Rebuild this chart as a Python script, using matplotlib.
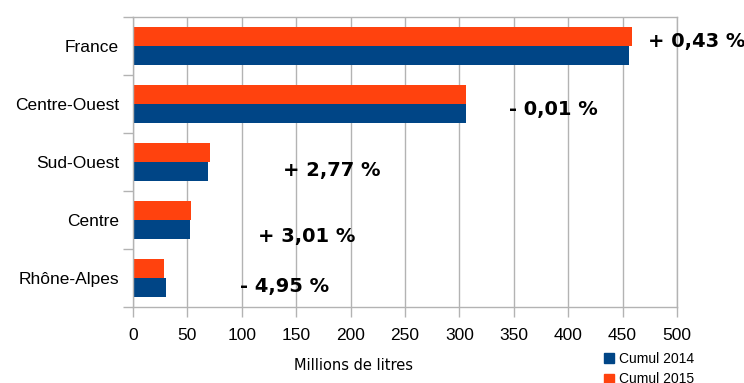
import matplotlib.pyplot as plt
import matplotlib.patches as mpatches
import numpy as np

# data (millions de litres)
regions = ["France", "Centre-Ouest", "Sud-Ouest", "Centre", "Rhône-Alpes"]
cumul_2014 = [456, 306, 69, 52.4, 30.3]
cumul_2015 = [458.5, 306, 70.8, 53.3, 28.5]
evolution = ["+ 0,43 %", "- 0,01 %", "+ 2,77 %", "+ 3,01 %", "- 4,95 %"]
x_ticks = [0, 50, 100, 150, 200, 250, 300, 350, 400, 450, 500]

blue = '#004586'
orange = '#FF420E'
grey = '#b3b3b3'

fig = plt.figure(figsize=(7.44, 3.83), dpi=100)
ax = fig.add_axes([133/744, 1 - 307/383, 544/744, 290/383])

y = np.arange(len(regions))
h = 0.336
ax.barh(y - h/2, cumul_2015, height=h, color=orange, zorder=2)
ax.barh(y + h/2, cumul_2014, height=h, color=blue, zorder=2)

ax.set_xlim(0, 500)
ax.set_ylim(len(regions) - 0.5, -0.5)

ax.set_xticks(x_ticks)
ax.set_xticklabels([str(v) for v in x_ticks], family='Liberation Sans', fontsize=12.5)
ax.set_yticks(y)
ax.set_yticklabels(regions, family='Liberation Sans', fontsize=12.5)
ax.set_yticks(np.arange(-0.5, len(regions)), minor=True)
ax.tick_params(axis='y', which='major', length=0, pad=10)
ax.tick_params(axis='y', which='minor', length=7, color=grey, width=1)
ax.tick_params(axis='x', length=7, color=grey, width=1, pad=8)
ax.grid(axis='x', color=grey, linewidth=1, zorder=0)
for s in ax.spines.values():
    s.set_color(grey)
    s.set_linewidth(1)

# percentage labels
label_pos = [(473, -0.07), (346, 1.1), (138, 2.15), (115, 3.28), (98, 4.15)]
for txt, (lx, ly) in zip(evolution, label_pos):
    ax.text(lx, ly, txt, fontsize=14, fontweight='bold', family='DejaVu Sans',
            ha='left', va='center')

fig.text(353/744, 1 - 366/383, "Millions de litres", family='DejaVu Sans',
         fontsize=10.5, ha='center', va='center')

handles = [mpatches.Patch(color=blue, label="Cumul 2014"),
           mpatches.Patch(color=orange, label="Cumul 2015")]
fig.legend(handles=handles, loc='upper left', bbox_to_anchor=(604/744, 1 - 352/383),
           frameon=False, prop={'family': 'Liberation Sans', 'size': 10},
           handlelength=0.7, handleheight=0.7, handletextpad=0.4,
           labelspacing=0.45, borderpad=0, borderaxespad=0)

fig.savefig("out.png", dpi=100)
